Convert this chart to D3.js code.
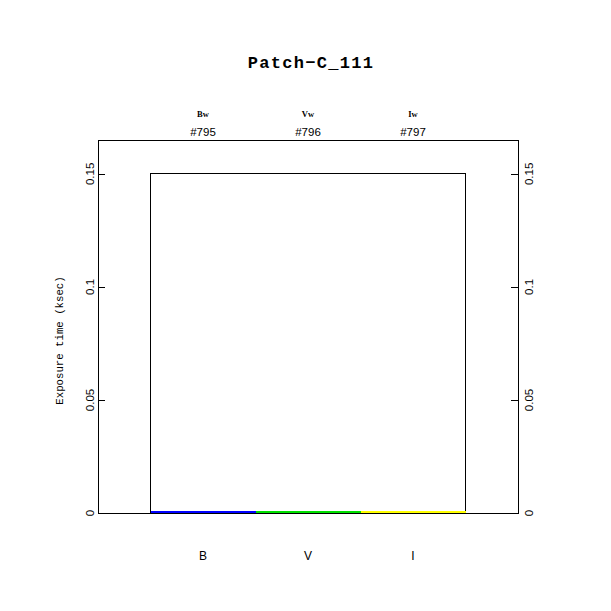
<!DOCTYPE html>
<html>
<head>
<meta charset="utf-8">
<script src="https://cdn.jsdelivr.net/npm/d3@7"></script>
<style>
  body { margin: 0; background: #fff; }
  svg { display: block; }
  rect, line { shape-rendering: crispEdges; }
</style>
</head>
<body>
<svg width="611" height="611"></svg>
<script>

// chart data
var title = "Patch\u2212C_111";
var bands = ["B", "V", "I"];
var filters = ["Bw", "Vw", "Iw"];
var frameIds = ["#795", "#796", "#797"];
var exposures = [0.0009, 0.0009, 0.0009];
var bandColors = ["#0000ff", "#00e000", "#ffff00"];
var totalExposure = 0.15;
var majorTicks = [0, 0.05, 0.1, 0.15];
var minorTicks = d3.range(0, 17).map(function (d) { return d / 100; });

const svg = d3.select('svg');

//The plot frame
var pLeft = 98, pRight = 518, pTop = 140, pBottom = 513;

var x = d3.scaleLinear().domain([0, 4]).range([pLeft, pRight]);
var y = d3.scaleLinear().domain([0, 0.165]).range([pBottom, pTop]);

var sans = "'Liberation Sans', Arial, sans-serif";
var mono = "'Liberation Mono', 'Courier New', monospace";

//Title
svg.append("text")
	.attr("x", 311)
	.attr("y", 68)
	.attr("text-anchor", "middle")
	.style("font-family", mono)
	.style("font-weight", "bold")
	.style("font-size", "17px")
	.style("letter-spacing", "1.3px")
	.text(title);

//Outline of the total exposure
svg.append("rect")
	.attr("x", x(0.5))
	.attr("y", y(totalExposure))
	.attr("width", x(3.5) - x(0.5))
	.attr("height", y(0) - y(totalExposure))
	.style("fill", "none")
	.style("stroke", "black")
	.style("stroke-width", 1);

//Coloured bars for each band
svg.selectAll("rect.band")
	.data(exposures)
	.enter().append("rect")
	.attr("class", "band")
	.attr("x", function (d, i) { return x(i + 0.5); })
	.attr("y", function (d) { return y(d); })
	.attr("width", x(1) - x(0))
	.attr("height", function (d) { return y(0) - y(d); })
	.style("fill", function (d, i) { return bandColors[i]; });

//Minor and major ticks, left and right
var gl = svg.append("g").attr("transform", "translate(" + pLeft + ",0)");
gl.call(d3.axisRight(y).tickValues(minorTicks).tickSize(4).tickFormat(""));
gl.call(d3.axisRight(y).tickValues(majorTicks).tickSize(7).tickFormat(""));
var gr = svg.append("g").attr("transform", "translate(" + pRight + ",0)");
gr.call(d3.axisLeft(y).tickValues(minorTicks).tickSize(4).tickFormat(""));
gr.call(d3.axisLeft(y).tickValues(majorTicks).tickSize(7).tickFormat(""));
svg.selectAll(".domain").remove();
svg.selectAll(".tick line").attr("stroke", "black");

//Frame
svg.append("rect")
	.attr("x", pLeft)
	.attr("y", pTop)
	.attr("width", pRight - pLeft)
	.attr("height", pBottom - pTop)
	.style("fill", "none")
	.style("stroke", "black")
	.style("stroke-width", 1);

//Rotated tick labels
[94, 533].forEach(function (lx) {
	svg.selectAll(null)
		.data(majorTicks)
		.enter().append("text")
		.attr("transform", function (d) { return "translate(" + lx + "," + y(d) + ") rotate(-90)"; })
		.attr("text-anchor", "middle")
		.style("font-family", sans)
		.style("font-size", "11.5px")
		.text(function (d) { return d3.format("")(d); });
});

//Y axis title
svg.append("text")
	.attr("transform", "translate(63," + ((pTop + pBottom) / 2 + 14) + ") rotate(-90)")
	.attr("text-anchor", "middle")
	.style("font-family", mono)
	.style("font-size", "10.7px")
	.text("Exposure time (ksec)");

//Filter names and frame ids above
svg.selectAll(null)
	.data(filters)
	.enter().append("text")
	.attr("x", function (d, i) { return x(i + 1); })
	.attr("y", 117)
	.attr("text-anchor", "middle")
	.style("font-family", "'Liberation Serif', serif")
	.style("font-size", "8.5px")
	.style("font-weight", "bold")
	.text(function (d) { return d; });

svg.selectAll(null)
	.data(frameIds)
	.enter().append("text")
	.attr("x", function (d, i) { return x(i + 1); })
	.attr("y", 136)
	.attr("text-anchor", "middle")
	.style("font-family", sans)
	.style("font-size", "11.5px")
	.text(function (d) { return d; });

//Band names below
svg.selectAll(null)
	.data(bands)
	.enter().append("text")
	.attr("x", function (d, i) { return x(i + 1); })
	.attr("y", 560)
	.attr("text-anchor", "middle")
	.style("font-family", sans)
	.style("font-size", "12px")
	.text(function (d) { return d; });

</script>
</body>
</html>
